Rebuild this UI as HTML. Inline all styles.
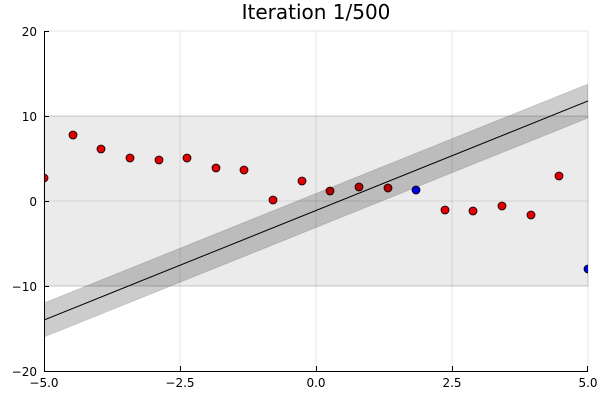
<!DOCTYPE html>
<html><head><meta charset="utf-8"><style>body{margin:0;background:#fff}svg{display:block}text{font-family:"DejaVu Sans","Liberation Sans",sans-serif;fill:#000}</style></head><body>
<svg width="600" height="400" viewBox="0 0 600 400">
<defs><clipPath id="c"><rect x="44" y="31" width="544" height="340"/></clipPath></defs>
<text x="316" y="19" font-size="20" text-anchor="middle">Iteration 1/500</text>
<g stroke="#000" stroke-opacity="0.1" stroke-width="1">
<line x1="180" y1="31" x2="180" y2="371"/><line x1="316" y1="31" x2="316" y2="371"/><line x1="452" y1="31" x2="452" y2="371"/><line x1="588" y1="31" x2="588" y2="371"/>
<line x1="44" y1="31" x2="588" y2="31"/><line x1="44" y1="116" x2="588" y2="116"/><line x1="44" y1="201" x2="588" y2="201"/><line x1="44" y1="286" x2="588" y2="286"/>
</g>
<rect x="44" y="116" width="544" height="170" fill="#000" fill-opacity="0.08" stroke="#000" stroke-opacity="0.1"/>
<g clip-path="url(#c)" stroke="#000" stroke-width="0.8">
<g fill="#e00000">
<circle cx="44" cy="178" r="4"/><circle cx="73" cy="135" r="4"/><circle cx="101" cy="149" r="4"/><circle cx="130" cy="158" r="4"/><circle cx="159" cy="160" r="4"/><circle cx="187" cy="158" r="4"/><circle cx="216" cy="168" r="4"/><circle cx="244" cy="170" r="4"/><circle cx="273" cy="200" r="4"/><circle cx="302" cy="181" r="4"/><circle cx="330" cy="191" r="4"/><circle cx="359" cy="187" r="4"/><circle cx="388" cy="188" r="4"/><circle cx="445" cy="210" r="4"/><circle cx="473" cy="211" r="4"/><circle cx="502" cy="206" r="4"/><circle cx="531" cy="215" r="4"/><circle cx="559" cy="176" r="4"/>
</g>
<g fill="#0000e0"><circle cx="416" cy="190" r="4"/><circle cx="588" cy="269" r="4"/></g>
<polygon points="44,303 588,84 588,118 44,337" fill="#000" fill-opacity="0.2" stroke="#000" stroke-opacity="0.15"/>
<line x1="44" y1="320" x2="588" y2="101" stroke="#000" stroke-width="1"/>
</g>
<g stroke="#000" stroke-width="1">
<line x1="44.5" y1="31" x2="44.5" y2="371.5"/><line x1="44" y1="371.5" x2="588" y2="371.5"/>
<line x1="44" y1="31.5" x2="49" y2="31.5"/><line x1="44" y1="116.5" x2="49" y2="116.5"/><line x1="44" y1="201.5" x2="49" y2="201.5"/><line x1="44" y1="286.5" x2="49" y2="286.5"/>
<line x1="180.5" y1="371" x2="180.5" y2="366"/><line x1="316.5" y1="371" x2="316.5" y2="366"/><line x1="452.5" y1="371" x2="452.5" y2="366"/><line x1="587.5" y1="371" x2="587.5" y2="366"/>
</g>
<g font-size="12" text-anchor="end">
<text x="37" y="36">20</text><text x="37" y="121">10</text><text x="37" y="206">0</text><text x="37" y="291">−10</text><text x="37" y="376">−20</text>
</g>
<g font-size="12" text-anchor="middle">
<text x="44" y="387">−5.0</text><text x="180" y="387">−2.5</text><text x="316" y="387">0.0</text><text x="452" y="387">2.5</text><text x="588" y="387">5.0</text>
</g>
</svg>
</body></html>
